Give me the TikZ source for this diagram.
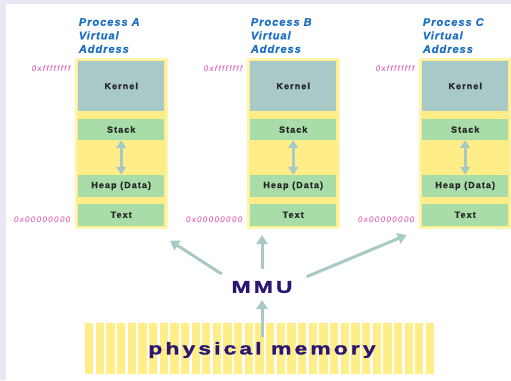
\documentclass[tikz,border=0pt]{standalone}
\usepackage{fontspec}
\setmainfont{Liberation Sans}
\newfontfamily\lblfont{Liberation Sans Bold}[LetterSpace=12,FakeBold=0.6]
\newfontfamily\hexfont{Liberation Sans Italic}[LetterSpace=17]
\newfontfamily\ttlfont{Liberation Sans Bold Italic}[LetterSpace=9,FakeBold=0.8]
\newfontfamily\bigfont{Liberation Sans Bold}[FakeStretch=1.35,LetterSpace=18,FakeBold=1.5]
\usetikzlibrary{arrows.meta,calc}
\definecolor{bgl}{HTML}{E8E8F4}
\definecolor{memy}{HTML}{FFEE88}
\definecolor{framey}{HTML}{FFF4B0}
\definecolor{kern}{HTML}{A9C8C8}
\definecolor{segg}{HTML}{A8DCA8}
\definecolor{arr}{HTML}{A9C9C6}
\definecolor{ttl}{HTML}{1A6FC4}
\definecolor{hexc}{HTML}{E040A0}
\definecolor{navy}{HTML}{2A1670}
\tikzset{
  frame/.style={fill=memy,draw=framey,line width=1.2pt},
  seg/.style={fill=segg,draw=none,minimum width=86.3pt,inner sep=0pt,font=\lblfont\fontsize{9}{10}\selectfont,text=black!85},
  kernbox/.style={seg,fill=kern},
  hexlbl/.style={font=\hexfont\fontsize{8}{9}\selectfont,text=hexc,anchor=east,inner sep=0pt},
  title/.style={font=\ttlfont\fontsize{11}{13.5}\selectfont,text=ttl,align=left,anchor=north west,inner sep=0pt},
  conn/.style={draw=arr,line width=3pt,-{Triangle[length=9pt,width=11pt]}},
  dbl/.style={draw=arr,line width=3pt,{Triangle[length=8pt,width=10pt]}-{Triangle[length=8pt,width=10pt]}},
  big/.style={font=\bigfont\fontsize{17}{20}\selectfont,text=navy,inner sep=0pt},
  stripe/.style={fill=memy,draw=none}
}
\begin{document}
\begin{tikzpicture}[x=1pt,y=-1pt]
\useasboundingbox (0,0) rectangle (511,380);
\fill[bgl] (0,0) rectangle (511,380);
\fill[white] (6,4) rectangle (511,380);
\foreach \p/\dx in {A/0,B/172,C/344}{
  \begin{scope}[xshift=\dx pt]
  \draw[frame] (76,59) rectangle (167,228);
  \node[title] (title\p) at (78.7,18) {Process \p\\Virtual\\Address};
  \node[kernbox,minimum height=50pt] (kern\p) at (121.2,86) {Kernel};
  \node[seg,minimum height=21pt] (stack\p) at (121.2,129.5) {Stack};
  \node[seg,minimum height=21.7pt] (heap\p) at (121.2,185.8) {Heap (Data)};
  \node[seg,minimum height=21.7pt] (text\p) at (121.2,214.8) {Text};
  \node[hexlbl] (hi\p) at (70.5,68.3) {0xffffffff};
  \node[hexlbl] (lo\p) at (70.5,220) {0x00000000};
  \draw[dbl] (stack\p.south) -- (heap\p.north);
  \end{scope}
}
% physical memory
\foreach \i in {0,...,32}{
  \fill[stripe] (85+\i*10.65,322.7) rectangle (93.3+\i*10.65,374);
}
\node[big] (mem) at (262,350) {physical memory};
\node[big] (mmu) at (262,287) {MMU};
\coordinate (mA) at (221.7,274);
\coordinate (mB) at (262,269);
\coordinate (mC) at (306.7,276.7);
\coordinate (tA) at (170,240.7);
\coordinate (tB) at (262,235);
\coordinate (tC) at (406.7,235);
\coordinate (pm) at (262,337);
\coordinate (tM) at (262,300);
\draw[conn] (mA) -- (tA);
\draw[conn] (mB) -- (tB);
\draw[conn] (mC) -- (tC);
\draw[conn] (pm) -- (tM);
\end{tikzpicture}
\end{document}
